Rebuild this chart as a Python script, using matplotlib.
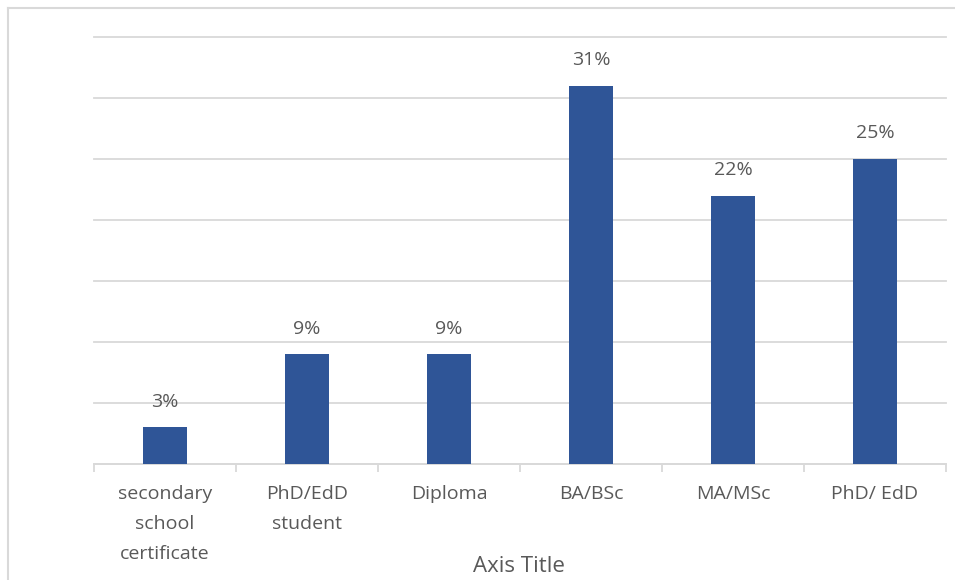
import matplotlib
matplotlib.use("Agg")
import matplotlib.pyplot as plt
from matplotlib.lines import Line2D

categories = ["secondary\nschool\ncertificate", "PhD/EdD\nstudent", "Diploma",
              "BA/BSc", "MA/MSc", "PhD/ EdD"]
values = [3, 9, 9, 31, 22, 25]
value_labels = ["3%", "9%", "9%", "31%", "22%", "25%"]

BAR = "#2F5597"
TEXT = "#595959"
GRID = "#D9D9D9"

plt.rcParams["font.family"] = ["Open Sans", "DejaVu Sans"]

W, H = 955, 580
fig = plt.figure(figsize=(W / 100, H / 100), dpi=100)
ax = fig.add_axes([94 / W, (H - 464) / H, (946 - 94) / W, (464 - 37) / H])

x = list(range(len(categories)))
ax.bar(x, values, width=0.31, color=BAR, zorder=3)

for xi, v, lab in zip(x, values, value_labels):
    ax.annotate(lab, (xi, v), xytext=(0, 12), textcoords="offset points",
                ha="center", va="bottom", fontsize=14, color=TEXT)

ax.set_xlim(-0.5, len(categories) - 0.5)
ax.set_ylim(0, 35)
ax.set_yticks(range(0, 36, 5))
ax.yaxis.grid(True, color=GRID, linewidth=1.3, zorder=0)
for gl in ax.get_ygridlines():
    gl.set_clip_on(False)
ax.tick_params(axis="y", left=False, labelleft=False)

# category boundary ticks
ax.set_xticks([i - 0.5 for i in range(len(categories) + 1)])
ax.set_xticklabels([])
ax.tick_params(axis="x", length=6, width=1.3, color=GRID, direction="out")
ax.set_xticks(x, minor=True)
ax.set_xticklabels(categories, minor=True, fontsize=14, color=TEXT,
                   linespacing=1.85)
ax.tick_params(axis="x", which="minor", length=0, pad=15)

for s in ["top", "right", "left"]:
    ax.spines[s].set_visible(False)
ax.spines["bottom"].set_color(GRID)
ax.spines["bottom"].set_linewidth(1.3)

fig.text(519 / W, 1 - 567 / H, "Axis Title", ha="center", va="center",
         fontsize=16, color=TEXT)

# chart frame: left and top edges
x0, y0 = 8 / W, 1 - 8 / H
fig.add_artist(Line2D([x0, 1.0], [y0, y0], transform=fig.transFigure,
                      color=GRID, linewidth=1.5))
fig.add_artist(Line2D([x0, x0], [0.0, y0], transform=fig.transFigure,
                      color=GRID, linewidth=1.5))

fig.savefig("out.png", dpi=100)
